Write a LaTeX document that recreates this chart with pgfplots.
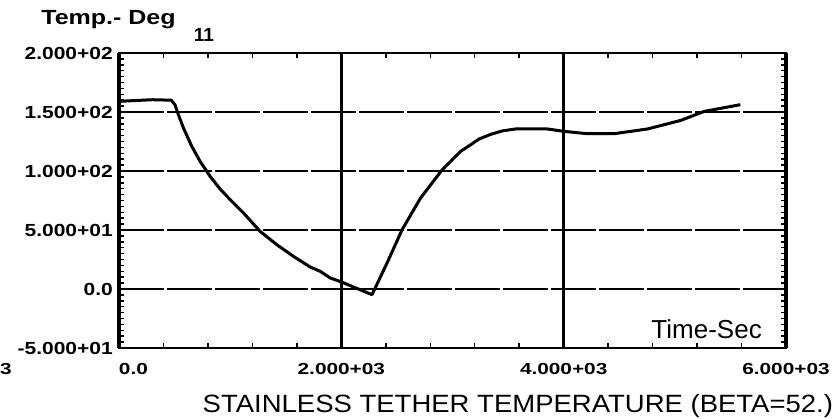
\documentclass[border=0pt]{standalone}
\usepackage{fontspec}
\setmainfont{Liberation Sans}
\usepackage{graphicx}
\usepackage{pgfplots}
\pgfplotsset{compat=1.18}
\newcommand{\xs}[1]{\scalebox{1.3}[1]{#1}}
\newcommand{\ys}[1]{\scalebox{1.2}[1]{#1}}
\begin{document}
\begin{tikzpicture}[x=1pt,y=1pt]
\useasboundingbox (0,0) rectangle (836,419);
\begin{axis}[
  at={(119pt,71pt)}, anchor=south west,
  scale only axis, width=667pt, height=295pt,
  xmin=0, xmax=6000, ymin=-50, ymax=200,
  xtick={0,2000,4000,6000},
  xticklabels={\makebox[0pt][l]{\xs{0.0}},\xs{2.000+03},\xs{4.000+03},\xs{6.000+03}},
  ytick={-50,0,50,100,150,200},
  yticklabels={\ys{-5.000+01},\ys{0.0}\hspace{13pt},\ys{5.000+01},\ys{1.000+02},\ys{1.500+02},\ys{2.000+02}},
  minor x tick num=4, minor y tick num=9,
  tick align=inside,
  major tick length=0pt, minor tick length=5pt,
  tick style={line width=1.5pt, black},
  axis line style={line width=2pt},
  xmajorgrids, ymajorgrids,
  major x grid style={line width=3.5pt, black},
  major y grid style={line width=1.8pt, black, dash pattern=on 45pt off 3pt},
  xticklabel style={font=\bfseries\fontsize{16}{18}\selectfont, inner sep=0pt, anchor=north, yshift=-15pt},
  yticklabel style={font=\bfseries\fontsize{17.5}{20}\selectfont, inner sep=0pt, anchor=east, xshift=-6pt},
  xlabel={\scalebox{1.1}[1]{STAINLESS TETHER TEMPERATURE (BETA=52.)}},
  xlabel style={font=\fontsize{25}{28}\selectfont, at={(axis description cs:0.598,-0.217)}, anchor=base},
  clip=false,
]
\addplot[black, line width=3pt, line join=round] coordinates {
(0,159) (100,159.5) (300,160.4) (470,160) (505,156) (534,147.7) (580,136.4)
(655,120.8) (730,108.1) (820,95.4) (910,84.7) (1000,75.7) (1120,64.4)
(1270,48.8) (1420,37.5) (1570,27.6) (1721,18.6) (1811,14.9) (1901,9.3)
(2000,6) (2140,0.5) (2276,-4.8) (2411,22) (2547,50.3) (2712,77)
(2907,101) (3072,116.6) (3160,122) (3237,127) (3342,131) (3450,134)
(3583,135.8) (3853,135.6) (4003,133.6) (4213,131.6) (4453,131.6)
(4754,135.6) (5054,142.9) (5264,150.5) (5589,156.2)
};
\node[font=\bfseries\fontsize{20.5}{24}\selectfont, anchor=base] at (axis description cs:-0.0157,1.098) {\scalebox{1.22}[1]{Temp.- Deg}};
\node[font=\fontsize{26}{28}\selectfont, anchor=base] at (axis description cs:0.881,0.0305) {Time-Sec};
\node[font=\bfseries\fontsize{19}{20}\selectfont] at (axis description cs:0.1274,1.061) {11};
\node[font=\bfseries\fontsize{16}{18}\selectfont] at (axis description cs:-0.1694,-0.0712) {\xs{3}};
\end{axis}
\end{tikzpicture}
\end{document}
